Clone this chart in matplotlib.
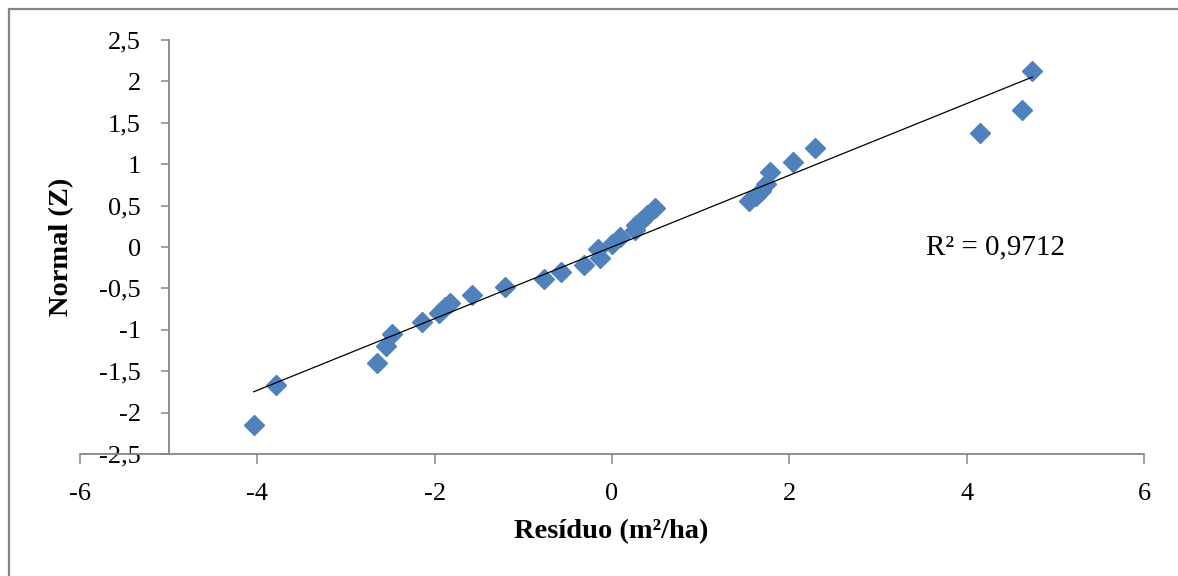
import numpy as np
import matplotlib
matplotlib.use("Agg")
import matplotlib.pyplot as plt
from matplotlib.patches import Rectangle

# Data
residuo = [-4.04, -3.79, -2.65, -2.55, -2.48, -2.14, -1.95, -1.88, -1.83, -1.58,
           -1.21, -0.77, -0.57, -0.32, -0.14, -0.16, 0.00, 0.09, 0.26, 0.27,
           0.33, 0.40, 0.48, 1.55, 1.62, 1.68, 1.74, 1.78, 2.04, 2.29,
           4.15, 4.62, 4.74]
normal_z = [-2.15, -1.67, -1.40, -1.20, -1.05, -0.91, -0.80, -0.73, -0.68, -0.58,
            -0.48, -0.39, -0.30, -0.22, -0.13, -0.03, 0.04, 0.12, 0.21, 0.27,
            0.32, 0.39, 0.47, 0.56, 0.62, 0.68, 0.76, 0.90, 1.03, 1.20,
            1.38, 1.65, 2.13]

x_ticks = [-6, -4, -2, 0, 2, 4, 6]
x_tick_labels = ["-6", "-4", "-2", "0", "2", "4", "6"]
y_ticks = [-2.5, -2, -1.5, -1, -0.5, 0, 0.5, 1, 1.5, 2, 2.5]
y_tick_labels = ["-2,5", "-2", "-1,5", "-1", "-0,5", "0", "0,5", "1", "1,5", "2", "2,5"]
r2_text = "R² = 0,9712"
x_label = "Resíduo (m²/ha)"
y_label = "Normal (Z)"

W, H = 1178, 576
fig = plt.figure(figsize=(W / 100, H / 100), dpi=100)
plt.rcParams['font.family'] = ['Liberation Serif', 'DejaVu Serif']

ax = fig.add_axes([80 / W, (H - 454) / H, 1064 / W, 414 / H])
ax.set_xlim(-6, 6)
ax.set_ylim(-2.5, 2.5)

x = np.array(residuo)
y = np.array(normal_z)
ax.plot(x, y, linestyle='none', marker='D', markersize=10.5,
        markerfacecolor='#4F81BD', markeredgecolor='#4F81BD', zorder=3)

# linear trend line
coef = np.polyfit(x, y, 1)
xl = np.array([x.min(), x.max()])
ax.plot(xl, np.polyval(coef, xl), color='black', linewidth=0.9, zorder=4)

ax.text(4.33, 0.0, r2_text, fontsize=21, ha='center', va='center',
        family=['Liberation Serif', 'DejaVu Serif'])

grey = '#868686'
for s in ['top', 'right']:
    ax.spines[s].set_visible(False)
ax.spines['left'].set_position(('data', -5))
ax.spines['left'].set_color(grey)
ax.spines['bottom'].set_color(grey)
ax.spines['left'].set_linewidth(1.3)
ax.spines['bottom'].set_linewidth(1.3)

ax.set_xticks(x_ticks)
ax.set_xticklabels(x_tick_labels)
ax.set_yticks(y_ticks)
ax.set_yticklabels(y_tick_labels)
ax.tick_params(axis='x', direction='out', length=7, width=1.1, color=grey,
               pad=14, labelsize=19)
ax.tick_params(axis='y', direction='out', length=6, width=1.1, color=grey,
               pad=14, labelsize=19)

fig.text(611 / W, 1 - 532 / H, x_label, fontsize=20.5, fontweight='bold',
         ha='center', va='center')
fig.text(62 / W, 1 - 247 / H, y_label, fontsize=20.5, fontweight='bold',
         ha='center', va='center', rotation=90)

# chart-area border (cut off on right and bottom)
fig.patches.append(Rectangle((8.5 / W, -0.2), 1.2, 1.2 - 8.5 / H,
                             transform=fig.transFigure, fill=False,
                             edgecolor=grey, linewidth=1.6))

fig.savefig('out.png', dpi=100)
